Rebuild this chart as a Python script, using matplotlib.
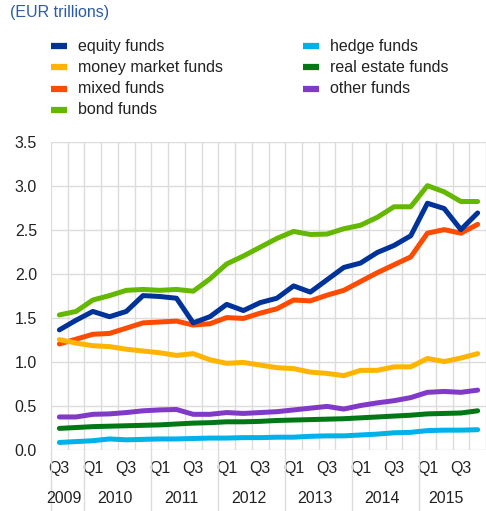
import numpy as np
import matplotlib
matplotlib.use("Agg")
import matplotlib.pyplot as plt
from matplotlib.lines import Line2D

plt.rcParams['font.family'] = ['Liberation Sans', 'DejaVu Sans']

# quarterly data, Q3 2009 .. Q4 2015 (EUR trillions)
quarters = ['Q3', 'Q4'] + ['Q1', 'Q2', 'Q3', 'Q4'] * 6
years = ['2009', '2010', '2011', '2012', '2013', '2014', '2015']

equity = [1.36, 1.47, 1.57, 1.51, 1.57, 1.75, 1.74, 1.72, 1.44, 1.51, 1.65, 1.58, 1.67,
          1.72, 1.86, 1.79, 1.93, 2.07, 2.12, 2.24, 2.32, 2.43, 2.80, 2.74, 2.50, 2.69]
money_market = [1.25, 1.21, 1.18, 1.17, 1.14, 1.12, 1.10, 1.07, 1.09, 1.02, 0.98, 0.99, 0.96,
                0.93, 0.92, 0.88, 0.865, 0.84, 0.90, 0.90, 0.94, 0.94, 1.035, 1.00, 1.04, 1.09]
mixed = [1.20, 1.255, 1.31, 1.32, 1.38, 1.44, 1.45, 1.46, 1.415, 1.43, 1.50, 1.49, 1.55,
         1.60, 1.70, 1.69, 1.755, 1.81, 1.91, 2.01, 2.10, 2.19, 2.46, 2.50, 2.46, 2.56]
bond = [1.53, 1.57, 1.70, 1.75, 1.81, 1.82, 1.81, 1.82, 1.80, 1.94, 2.11, 2.20, 2.30,
        2.40, 2.48, 2.445, 2.45, 2.51, 2.55, 2.64, 2.76, 2.76, 3.00, 2.93, 2.82, 2.82]
hedge = [0.08, 0.09, 0.10, 0.12, 0.11, 0.115, 0.12, 0.12, 0.125, 0.13, 0.13, 0.135, 0.135,
         0.14, 0.14, 0.15, 0.155, 0.155, 0.165, 0.175, 0.19, 0.195, 0.215, 0.22, 0.22, 0.225]
real_estate = [0.24, 0.25, 0.26, 0.265, 0.27, 0.275, 0.28, 0.29, 0.30, 0.305, 0.315, 0.315, 0.32,
               0.33, 0.335, 0.34, 0.345, 0.35, 0.36, 0.37, 0.38, 0.39, 0.405, 0.41, 0.415, 0.44]
other = [0.37, 0.37, 0.40, 0.405, 0.42, 0.44, 0.45, 0.455, 0.40, 0.40, 0.42, 0.41, 0.42,
         0.43, 0.45, 0.47, 0.49, 0.46, 0.50, 0.53, 0.555, 0.59, 0.65, 0.66, 0.65, 0.675]

series = [
    ('equity funds', equity, '#003399'),
    ('money market funds', money_market, '#FFB400'),
    ('mixed funds', mixed, '#FF4B00'),
    ('bond funds', bond, '#65B800'),
    ('hedge funds', hedge, '#00B1EA'),
    ('real estate funds', real_estate, '#007816'),
    ('other funds', other, '#8139C7'),
]

FS = 11.5
W, H = 486, 511
fig = plt.figure(figsize=(W / 100, H / 100), dpi=100)

left, right, bottom, top = 51, 486, 449.5, 141.7
ax = fig.add_axes([left / W, 1 - bottom / H, (right - left) / W, (bottom - top) / H])

x = np.arange(len(quarters))
# draw in reverse so equity sits on top
for label, vals, col in series[::-1]:
    ax.plot(x, vals, color=col, lw=3.6, solid_capstyle='round', solid_joinstyle='round', zorder=3)

ax.set_ylim(0, 3.5)
ax.set_xlim(-0.5, -0.5 + (right - left) / 17)
yt = np.arange(0, 3.51, 0.5)
ax.set_yticks(yt)
ax.set_yticklabels([f'{v:.1f}' for v in yt])
ax.set_xticks(np.arange(-0.5, len(quarters), 1), minor=True)
ax.set_xticks(x[::2])
ax.set_xticklabels(quarters[::2])
ax.grid(True, axis='y', color='#dcdcdc', lw=1)
ax.grid(True, axis='x', which='minor', color='#dcdcdc', lw=1)
ax.grid(False, axis='x', which='major')
for s in ax.spines.values():
    s.set_visible(False)
ax.tick_params(axis='both', which='both', length=0, labelsize=FS, colors='#222222')
ax.tick_params(axis='x', pad=8.5)
ax.tick_params(axis='y', pad=10)
ax.set_axisbelow(True)

# year separators below the axis and year labels
trans = ax.get_xaxis_transform()
bounds = [-0.5, 1.5, 5.5, 9.5, 13.5, 17.5, 21.5]
for b in bounds:
    ax.plot([b, b], [0, -0.21], transform=trans, color='#dcdcdc', lw=1, clip_on=False)
year_pos = [0.3, 3.3, 7.3, 11.3, 15.3, 19.3, 23.1]
for yr, p in zip(years, year_pos):
    ax.text(p, -0.158, yr, transform=trans, ha='center', va='center', fontsize=FS, color='#222222')

# title
fig.text(10 / W, 1 - 12 / H, '(EUR trillions)', color='#2B5BA8', fontsize=FS, va='center', ha='left')

# legend, drawn manually in two columns
for i, (label, vals, col) in enumerate(series):
    c, r = divmod(i, 4)
    x0 = 51 if c == 0 else 303
    y0 = 46 + r * 21.3
    fig.add_artist(Line2D([x0 / W, (x0 + 16) / W], [1 - y0 / H, 1 - y0 / H],
                          transform=fig.transFigure, color=col, lw=4.5, solid_capstyle='butt'))
    fig.text((x0 + 27) / W, 1 - y0 / H, label, fontsize=FS, color='#222222', va='center', ha='left')

fig.savefig('out.png', dpi=100)
